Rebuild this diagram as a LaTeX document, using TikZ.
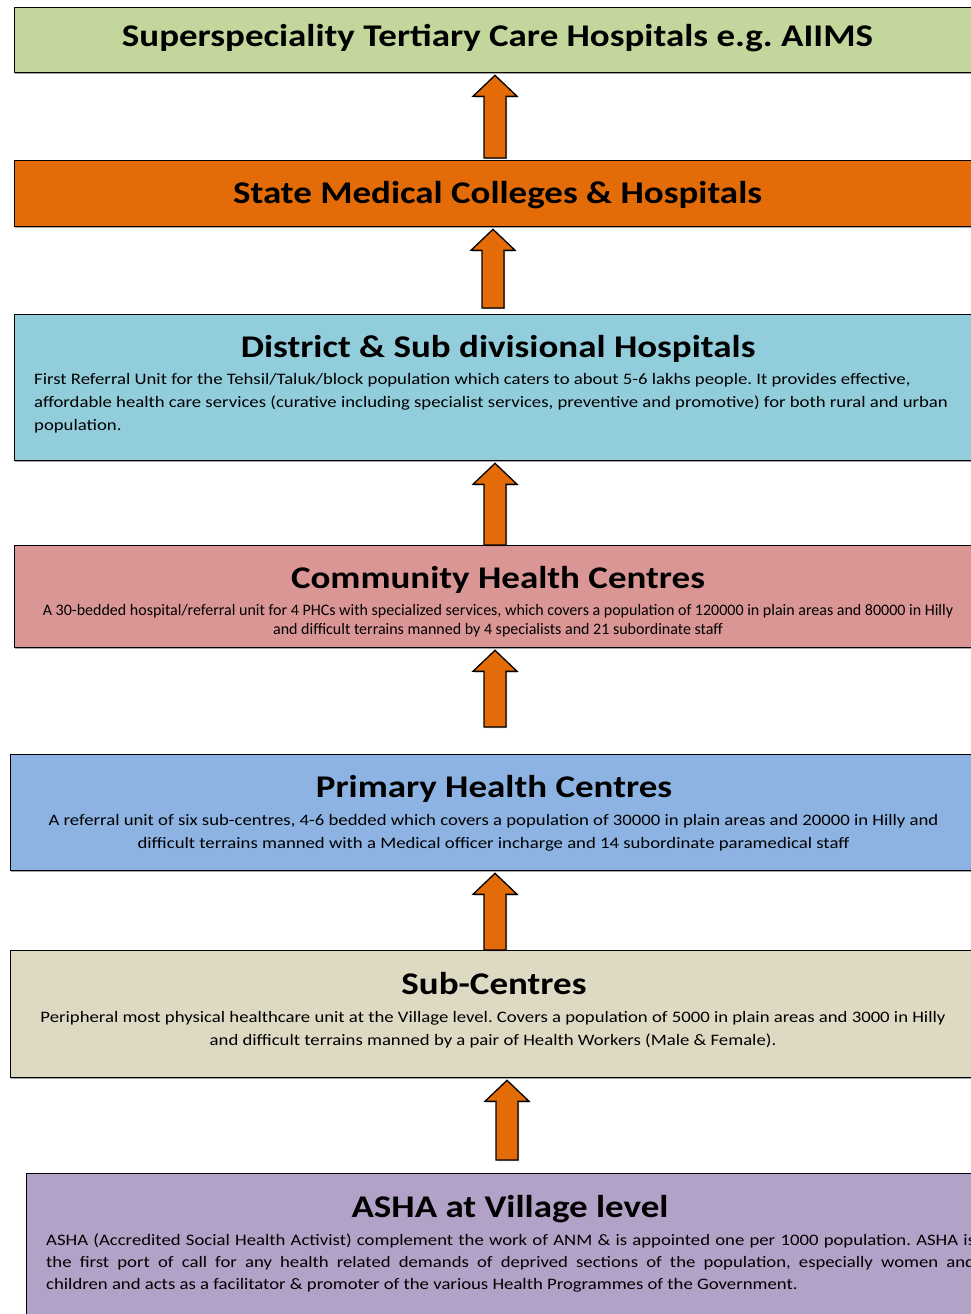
\documentclass[tikz,border=0pt]{standalone}
\usepackage{fontspec}
\setmainfont{Carlito}[FakeStretch=1.17]
\newfontfamily\narrowfont{Carlito}
\frenchspacing
\usetikzlibrary{calc, shadows}
\definecolor{tieraiims}{HTML}{C3D69B}
\definecolor{tiercollege}{HTML}{E36C09}
\definecolor{tierdistrict}{HTML}{92CDDC}
\definecolor{tierchc}{HTML}{D99694}
\definecolor{tierphc}{HTML}{8DB3E2}
\definecolor{tiersub}{HTML}{DDD9C3}
\definecolor{tierasha}{HTML}{B2A2C7}
\definecolor{referral}{HTML}{E36C09}

% block arrow from a lower tier up to the tier above it
% #1 x of the arrow, #2 lower tier, #3 upper tier, #4 gap left above the lower tier
\newcommand{\referarrow}[4]{%
  \draw[refarr] let \p1=(#1,0 |- #3.south), \p2=(#1,0 |- #2.north) in
    (\x1-11pt,\y2+#4) -- (\x1-11pt,\y1-23pt) -- (\x1-22pt,\y1-23pt) -- (\x1,\y1-2pt)
    -- (\x1+22pt,\y1-23pt) -- (\x1+11pt,\y1-23pt) -- (\x1+11pt,\y2+#4) -- cycle;}

\begin{document}
\begin{tikzpicture}[
  x=1pt, y=-1pt,
  tierbox/.style   = {draw=black, line width=1.3pt, anchor=north west, inner sep=0pt,
                      drop shadow={shadow xshift=0.8pt, shadow yshift=-1.6pt, fill=black, opacity=0.35}},
  tiertitle/.style = {font=\bfseries\fontsize{31.6}{36}\selectfont, anchor=base, inner sep=0pt},
  tiernote/.style  = {font=\fontsize{16}{23}\selectfont, anchor=base, align=center, inner sep=0pt},
  refarr/.style    = {draw=black, line width=1.3pt, fill=referral, line join=miter,
                      drop shadow={shadow xshift=1.2pt, shadow yshift=-1.2pt, fill=black, opacity=0.3}},
]
\useasboundingbox (0,0) rectangle (970,1314);
%%--- Tiers, top to bottom ---
\node[tierbox, fill=tieraiims,    minimum width=967pt, minimum height=65pt]  (aiims)    at (14,7)    {};
\node[tierbox, fill=tiercollege,  minimum width=967pt, minimum height=66pt]  (college)  at (14,160)  {};
\node[tierbox, fill=tierdistrict, minimum width=967pt, minimum height=146pt] (district) at (14,314)  {};
\node[tierbox, fill=tierchc,      minimum width=967pt, minimum height=102pt] (chc)      at (14,545)  {};
\node[tierbox, fill=tierphc,      minimum width=968pt, minimum height=116pt] (phc)      at (10,754)  {};
\node[tierbox, fill=tiersub,      minimum width=968pt, minimum height=127pt] (subc)     at (10,950)  {};
\node[tierbox, fill=tierasha,     minimum width=968pt, minimum height=160pt] (asha)     at (26,1173) {};
%%--- Titles ---
\node[tiertitle] (aiimstitle)    at (497.5,47)  {Superspeciality Tertiary Care Hospitals e.g. AIIMS};
\node[tiertitle] (collegetitle)  at (497.5,203) {State Medical Colleges \& Hospitals};
\node[tiertitle] (districttitle) at (498,357.5) {District \& Sub divisional Hospitals};
\node[tiertitle] (chctitle)      at (498,588)   {Community Health Centres};
\node[tiertitle] (phctitle)      at (494,797)   {Primary Health Centres};
\node[tiertitle] (subctitle)     at (494,994)   {Sub-Centres};
\node[tiertitle] (ashatitle)     at (510,1217)  {ASHA at Village level};
%%--- Descriptions (base = last line) ---
\node[tiernote, anchor=base west, align=left] (districtnote) at (34,430)
  {First Referral Unit for the Tehsil/Taluk/block population which caters to about 5-6 lakhs people. It provides effective,\\
   affordable health care services (curative including specialist services, preventive and promotive) for both rural and urban\\
   population.};
\node[tiernote, font=\narrowfont\fontsize{16}{19}\selectfont] (chcnote) at (498,634.5)
  {A 30-bedded hospital/referral unit for 4 PHCs with specialized services, which covers a population of 120000 in plain areas and 80000 in Hilly\\
   and difficult terrains manned by 4 specialists and 21 subordinate staff};
\node[tiernote] (phcnote) at (493.5,848)
  {A referral unit of six sub-centres, 4-6 bedded which covers a population of 30000 in plain areas and 20000 in Hilly and\\
   difficult terrains manned with a Medical officer incharge and 14 subordinate paramedical staff};
\node[tiernote] (subcnote) at (493,1045)
  {Peripheral most physical healthcare unit at the Village level. Covers a population of 5000 in plain areas and 3000 in Hilly\\
   and difficult terrains manned by a pair of Health Workers (Male \& Female).};
\node[tiernote, anchor=base west, align=left, font=\fontsize{16}{22}\selectfont] (ashanote) at (46,1289)
  {\makebox[929pt][s]{ASHA (Accredited Social Health Activist) complement the work of ANM \& is appointed one per 1000 population. ASHA is}\\
   \makebox[929pt][s]{the first port of call for any health related demands of deprived sections of the population, especially women and}\\
   children and acts as a facilitator \& promoter of the various Health Programmes of the Government.};
%%--- Referral arrows ---
\referarrow{495}{college}{aiims}{2pt}
\referarrow{493}{district}{college}{6pt}
\referarrow{495}{chc}{district}{0pt}
\referarrow{495}{phc}{chc}{27pt}
\referarrow{495}{subc}{phc}{0pt}
\referarrow{507}{asha}{subc}{13pt}
\end{tikzpicture}
\end{document}
